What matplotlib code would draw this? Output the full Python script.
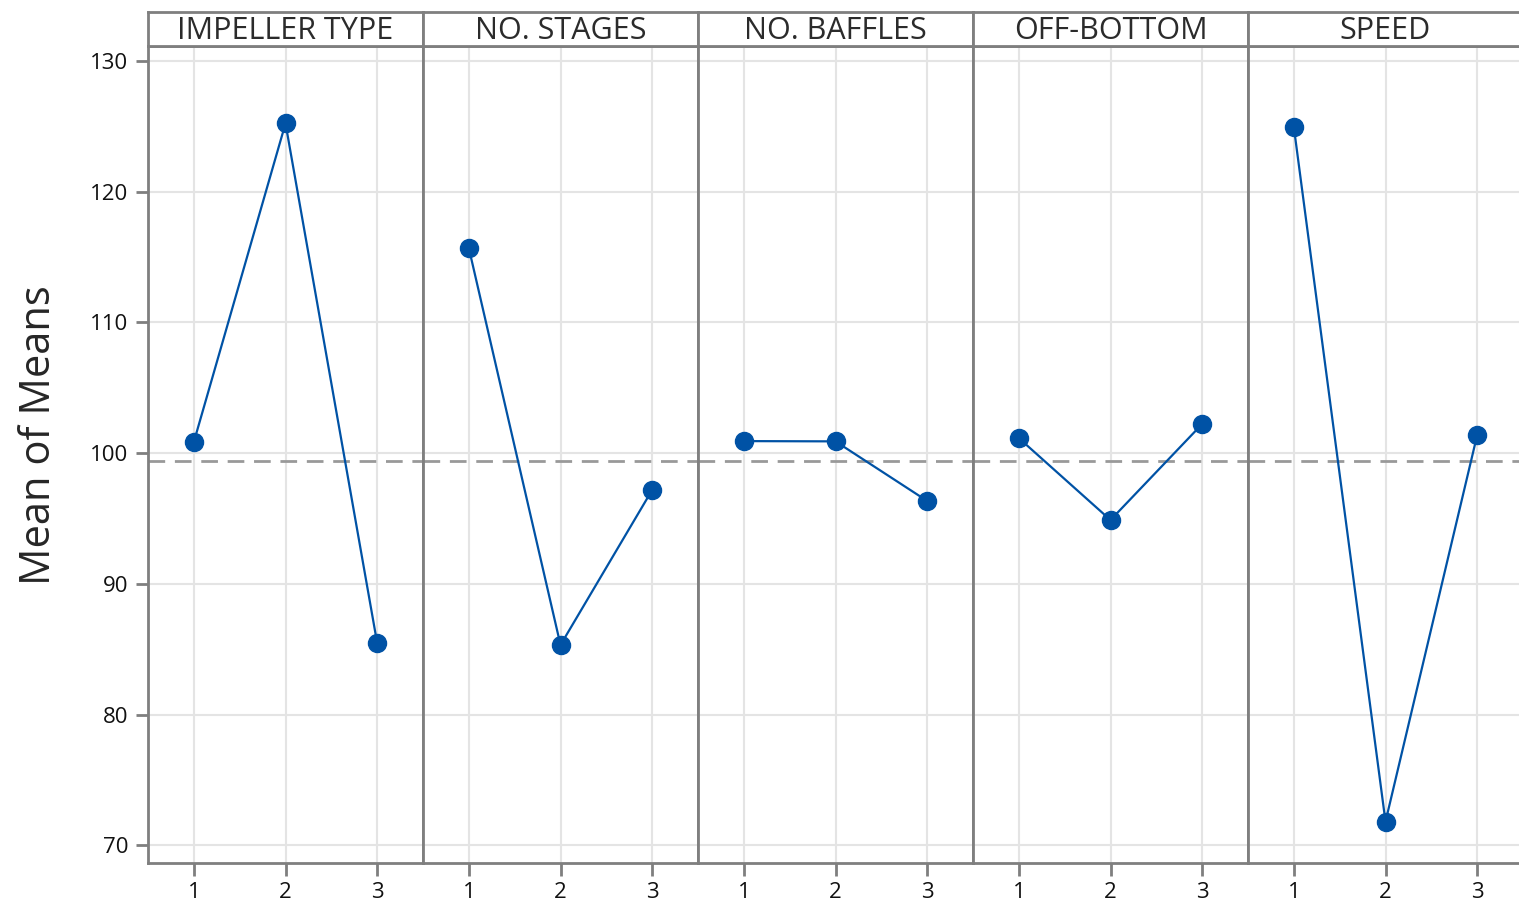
import matplotlib
matplotlib.use("Agg")
import matplotlib.pyplot as plt

# Main-effects means for each factor level
factors = ["IMPELLER TYPE", "NO. STAGES", "NO. BAFFLES", "OFF-BOTTOM", "SPEED"]
levels = [1, 2, 3]
impeller_type = [100.85, 125.23, 85.47]
no_stages = [115.69, 85.32, 97.18]
no_baffles = [100.92, 100.90, 96.34]
off_bottom = [101.15, 94.88, 102.23]
speed = [124.95, 71.80, 101.38]
grand_mean = 99.40
y_ticks = [70, 80, 90, 100, 110, 120, 130]

series = [impeller_type, no_stages, no_baffles, off_bottom, speed]

plt.rcParams["font.family"] = ["Open Sans", "DejaVu Sans"]

frame_col = "#7f7f7f"
grid_col = "#e4e4e4"
line_col = "#0052a5"

W, H = 1519, 909
fig = plt.figure(figsize=(W / 100, H / 100), dpi=100)

left = 148 / W
pw = 275 / W
bottom = (H - 863) / H
top = (H - 46) / H
head_top = (H - 12) / H

for i, (name, vals) in enumerate(zip(factors, series)):
    x0 = left + i * pw
    ax = fig.add_axes([x0, bottom, pw, top - bottom])
    ax.set_xlim(0.5, 3.5)
    ax.set_ylim(68.64, 131.15)
    ax.set_xticks(levels)
    ax.set_xticklabels([str(v) for v in levels])
    ax.set_yticks(y_ticks)
    ax.grid(True, color=grid_col, linewidth=1.5, zorder=0)
    ax.set_axisbelow(True)
    ax.axhline(grand_mean, color="#999999", linewidth=2.0,
               linestyle=(0, (6, 3.5)), zorder=2)
    ax.plot(levels, vals, color=line_col, linewidth=1.6, marker="o",
            markersize=13, markerfacecolor=line_col,
            markeredgecolor=line_col, zorder=3)
    for s in ax.spines.values():
        s.set_color(frame_col)
        s.set_linewidth(2.0)
    ax.tick_params(axis="x", length=9, width=2.0, color=frame_col,
                   labelsize=16, labelcolor="#111111", pad=5)
    if i == 0:
        ax.tick_params(axis="y", length=9, width=2.0, color=frame_col,
                       labelsize=16, labelcolor="#111111", pad=5)
    else:
        ax.tick_params(axis="y", length=0, labelleft=False)

    # factor name strip above each panel
    hax = fig.add_axes([x0, top, pw, head_top - top])
    hax.set_xticks([])
    hax.set_yticks([])
    for s in hax.spines.values():
        s.set_color(frame_col)
        s.set_linewidth(2.0)
    hax.text(0.5, 0.45, name, ha="center", va="center", fontsize=22,
             color="#2b2b2b", transform=hax.transAxes)

    if i == len(factors) - 1:
        ax.spines["right"].set_visible(False)
        hax.spines["right"].set_visible(False)

fig.text(39 / W, (H - 435) / H, "Mean of Means", rotation=90,
         ha="center", va="center", fontsize=30, color="#262626")

fig.savefig("out.png", dpi=100)
